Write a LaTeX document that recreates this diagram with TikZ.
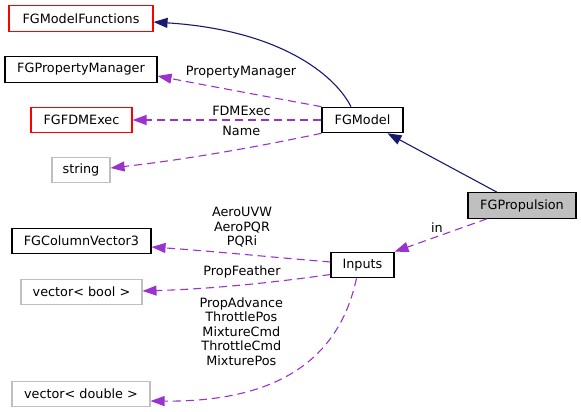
\documentclass[tikz,border=0pt]{standalone}
\usepackage{fontspec}
\setmainfont{DejaVu Sans}
\usetikzlibrary{arrows.meta}
\definecolor{navy}{HTML}{191970}
\definecolor{orchid}{HTML}{9A32CD}
\definecolor{lgray}{HTML}{BFBFBF}
\tikzset{
  cls/.style={draw=black, line width=1.1pt, inner sep=0pt, minimum height=25.5pt, font=\fontsize{12.8}{14.6}\selectfont, fill=white},
  redcls/.style={cls, draw=red},
  graycls/.style={cls, draw=lgray},
  inherit/.style={draw=navy, line width=1.1pt, -{Triangle[length=14pt,width=10pt]}},
  usage/.style={draw=orchid, line width=1.1pt, dash pattern=on 8pt off 5pt, -{Triangle[length=14pt,width=10pt]}},
  lbl/.style={font=\fontsize{12.8}{14.6}\selectfont, inner sep=0pt, align=center},
}
\begin{document}
\begin{tikzpicture}[x=1pt,y=-1pt]
\useasboundingbox (0,0) rectangle (581,412);
% nodes
\node[redcls, minimum width=144pt] (mf) at (81,18.5) {FGModelFunctions};
\node[cls, minimum width=152pt] (pm) at (81,69.5) {FGPropertyManager};
\node[redcls, minimum width=101pt] (fdm) at (81.5,120) {FGFDMExec};
\node[graycls, minimum width=58pt] (str) at (81,170) {string};
\node[cls, minimum width=81pt] (model) at (362.5,120) {FGModel};
\node[cls, fill=lgray, minimum width=108pt] (prop) at (522,205.5) {FGPropulsion};
\node[cls, minimum width=139pt] (cv3) at (81.5,241) {FGColumnVector3};
\node[cls, minimum width=63pt] (inp) at (362.5,265) {Inputs};
\node[graycls, minimum width=121pt] (vb) at (81.5,292) {vector< bool >};
\node[graycls, minimum width=138pt] (vd) at (81,394) {vector< double >};
% anchor coordinates
\coordinate (modeltop) at ([xshift=-11.5pt]model.north);
\coordinate (proptop) at ([xshift=-25pt]prop.north);
\coordinate (propbot) at ([xshift=-35pt]prop.south);
\coordinate (inpbot) at ([xshift=-6pt]inp.south);
% inheritance
\draw[inherit] (modeltop) .. controls (335,75) and (280,30) .. ([yshift=-3.5pt]mf.east);
\draw[inherit] (proptop) -- ([xshift=25pt]model.south);
% usage
\draw[usage] (model.north west) .. controls (280,99) and (220,88) .. ([yshift=-6.5pt]pm.east);
\draw[usage] (model.west) -- (fdm.east);
\draw[usage] (model.south west) .. controls (280,142) and (200,158) .. ([yshift=2pt]str.east);
\draw[usage] (propbot) -- (inp.north east);
\draw[usage] ([yshift=3pt]inp.west) .. controls (270,257) and (210,251) .. ([yshift=-6pt]cv3.east);
\draw[usage] ([yshift=-9.5pt]inp.west) .. controls (270,283) and (210,289) .. ([yshift=1pt]vb.east);
\draw[usage] (inpbot) .. controls (338,365) and (270,402) .. ([yshift=-7pt]vd.east);
% labels
\node[lbl] (lpm) at (241,72) {PropertyManager};
\node[lbl] (lfdm) at (241.5,111) {FDMExec};
\node[lbl] (lname) at (241.3,131) {Name};
\node[lbl] (lin) at (437,228) {in};
\node[lbl] (lcv) at (242,227.5) {AeroUVW\\AeroPQR\\PQRi};
\node[lbl] (lvb) at (242,272) {PropFeather};
\node[lbl] (lvd) at (241.3,331.5) {PropAdvance\\ThrottlePos\\MixtureCmd\\ThrottleCmd\\MixturePos};
\end{tikzpicture}
\end{document}
